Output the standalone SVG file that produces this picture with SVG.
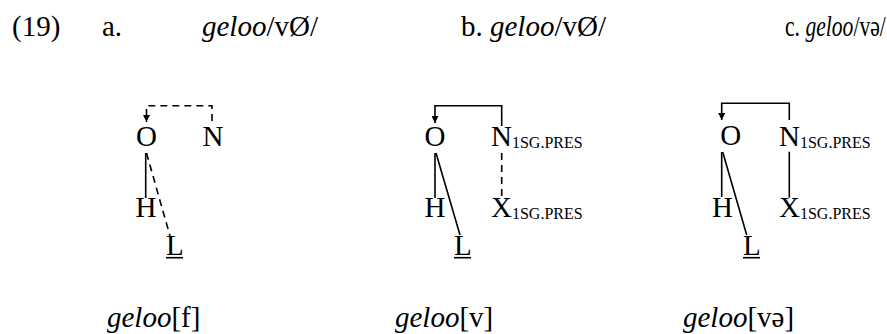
<svg xmlns="http://www.w3.org/2000/svg" width="887" height="334" viewBox="0 0 887 334">
<style>
text{font-family:"Liberation Serif","Times New Roman",serif;font-size:29px;fill:#000}
.it{font-style:italic}
.sub{font-size:16px}
.mid{text-anchor:middle}
.ln{stroke:#000;stroke-width:1.6;fill:none}
.ds{stroke-dasharray:7 5}
</style>
<defs>
<marker id="ah" viewBox="0 0 10 10" refX="10" refY="5" markerUnits="userSpaceOnUse" markerWidth="8" markerHeight="7" orient="auto">
<path d="M0,0 L10,5 L0,10 z" fill="#000" stroke="none"/>
</marker>
</defs>
<g id="header">
<text x="12" y="36">(19)</text>
<text x="102" y="36">a.</text>
<text x="202" y="36"><tspan class="it">geloo</tspan>/vØ/</text>
<text x="461" y="36">b. <tspan class="it">geloo</tspan>/vØ/</text>
<text transform="translate(785,36) scale(0.745,1)" x="0" y="0">c. <tspan class="it">geloo</tspan>/və/</text>
</g>
<g id="connectors">
<path class="ln ds" d="M212,121 V105.7 H146.5 V122" marker-end="url(#ah)"/>
<line class="ln" x1="145.7" y1="153" x2="145.7" y2="198"/>
<line class="ln ds" x1="146.5" y1="153" x2="170" y2="236"/>
<path class="ln" d="M501.7,126 V105.7 H435 V123" marker-end="url(#ah)"/>
<line class="ln ds" x1="501.7" y1="153" x2="501.7" y2="198"/>
<line class="ln" x1="435" y1="153" x2="435" y2="198"/>
<line class="ln" x1="436" y1="153" x2="460" y2="235"/>
<path class="ln" d="M789.3,120 V103.3 H721.7 V120" marker-end="url(#ah)"/>
<line class="ln" x1="789.3" y1="151.7" x2="789.3" y2="197.7"/>
<line class="ln" x1="721.7" y1="152" x2="721.7" y2="197"/>
<line class="ln" x1="722.7" y1="152" x2="746.7" y2="235"/>
</g>
<g id="a-O"><text class="mid" x="146.5" y="146">O</text></g>
<g id="a-N"><text class="mid" x="213" y="146">N</text></g>
<g id="a-H"><text class="mid" x="146" y="217">H</text></g>
<g id="a-L"><text x="166" y="255">L</text><line class="ln" x1="166" y1="257.7" x2="183" y2="257.7"/></g>
<g id="b-O"><text class="mid" x="435" y="146">O</text></g>
<g id="b-N"><text x="491" y="146">N<tspan class="sub" dy="2">1SG.PRES</tspan></text></g>
<g id="b-H"><text class="mid" x="435" y="217">H</text></g>
<g id="b-X"><text x="491" y="217">X<tspan class="sub" dy="2">1SG.PRES</tspan></text></g>
<g id="b-L"><text x="454" y="255">L</text><line class="ln" x1="454" y1="257.7" x2="471" y2="257.7"/></g>
<g id="c-O"><text class="mid" x="730.7" y="145">O</text></g>
<g id="c-N"><text x="779" y="146">N<tspan class="sub" dy="2">1SG.PRES</tspan></text></g>
<g id="c-H"><text class="mid" x="722.5" y="217">H</text></g>
<g id="c-X"><text x="779" y="217">X<tspan class="sub" dy="2">1SG.PRES</tspan></text></g>
<g id="c-L"><text x="743" y="255">L</text><line class="ln" x1="743" y1="257.7" x2="760" y2="257.7"/></g>
<g id="footer">
<text x="107" y="327"><tspan class="it">geloo</tspan>[f]</text>
<text x="395" y="327"><tspan class="it">geloo</tspan>[v]</text>
<text x="683" y="327"><tspan class="it">geloo</tspan>[və]</text>
</g>
</svg>
